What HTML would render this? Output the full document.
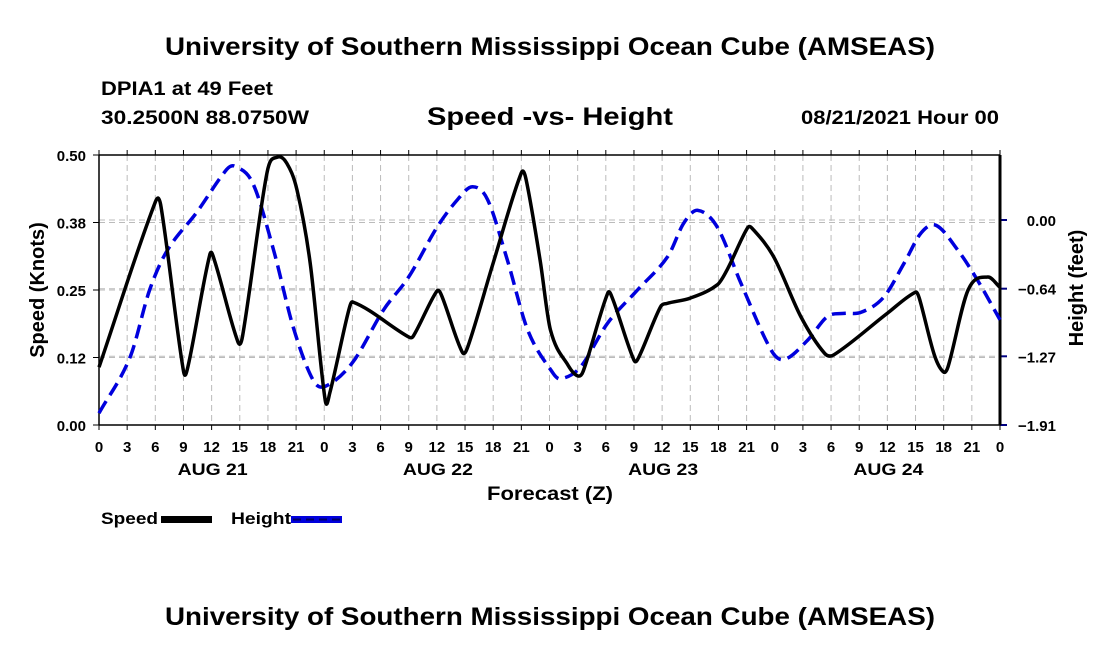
<!DOCTYPE html>
<html><head><meta charset="utf-8"><style>
body{margin:0;background:#fff;}
svg{display:block;font-family:"Liberation Sans",Arial,sans-serif;font-weight:bold;}
</style></head><body>
<svg id="c" width="1100" height="650" xmlns="http://www.w3.org/2000/svg">
<text x="165" y="55" font-size="25" textLength="770" lengthAdjust="spacingAndGlyphs">University of Southern Mississippi Ocean Cube (AMSEAS)</text>
<text x="101" y="95" font-size="19" textLength="172" lengthAdjust="spacingAndGlyphs">DPIA1 at 49 Feet</text>
<text x="101" y="124" font-size="19" textLength="208" lengthAdjust="spacingAndGlyphs">30.2500N  88.0750W</text>
<text x="427" y="125" font-size="25" textLength="246" lengthAdjust="spacingAndGlyphs">Speed -vs- Height</text>
<text x="801" y="124" font-size="19" textLength="198" lengthAdjust="spacingAndGlyphs">08/21/2021 Hour 00</text>
<text x="165" y="625" font-size="25" textLength="770" lengthAdjust="spacingAndGlyphs">University of Southern Mississippi Ocean Cube (AMSEAS)</text>
<g id="grid"></g><g id="axes"></g><g id="series"></g>
<text x="487" y="500" font-size="19" textLength="126" lengthAdjust="spacingAndGlyphs">Forecast (Z)</text>
<text transform="translate(44,290) rotate(-90)" text-anchor="middle" font-size="20">Speed (Knots)</text>
<text transform="translate(1083,288) rotate(-90)" text-anchor="middle" font-size="20">Height (feet)</text>
<g>
<text x="101" y="524" font-size="17" textLength="57" lengthAdjust="spacingAndGlyphs">Speed</text>
<rect x="161" y="516" width="51" height="7" fill="#000"/>
<text x="231" y="524" font-size="17" textLength="60" lengthAdjust="spacingAndGlyphs">Height</text>
<rect x="291" y="516" width="51" height="7" fill="#0000dd"/>
<line x1="293" y1="519.5" x2="340" y2="519.5" stroke="#000066" stroke-width="2" stroke-dasharray="8,5"/>
</g>
</svg>
<script>
const speedHours=[0,6,6.6,9,9.5,11.8,12.3,14.8,15.3,17.9,19,20,21.1,22.5,24.1,24.6,26.5,27,33,33.5,36,36.5,38.7,39.3,42,45,45.5,47,48.1,50,51,51.6,54.2,54.7,57,57.5,59.8,60.5,63,65.9,67,69.1,69.6,71.9,74.8,77.3,78.3,84,87,87.4,89,90,90.5,92.6,94.7,96];
const speedValues=[0.107,0.413,0.405,0.10,0.11,0.315,0.305,0.154,0.165,0.467,0.496,0.485,0.435,0.30,0.046,0.06,0.205,0.228,0.163,0.165,0.248,0.24,0.135,0.145,0.30,0.467,0.455,0.305,0.176,0.11,0.091,0.10,0.244,0.235,0.12,0.125,0.218,0.225,0.235,0.26,0.29,0.365,0.364,0.311,0.20,0.133,0.13,0.207,0.246,0.235,0.13,0.098,0.11,0.25,0.274,0.255];
const heightHours=[0,3.3,5.4,7.3,10.4,13.6,14.5,16.4,18.6,20.7,22.8,24.1,27,30.3,33,36,38.2,39.8,41.4,43.5,45.7,48.4,49.2,51.3,54.2,57.4,60.6,62.3,63.8,65.9,68.4,71.6,73,75.5,77.6,79.4,81.2,83.6,85.8,87.6,89.2,91.5,93.6,96];
const heightValues=[-1.80,-1.28,-0.65,-0.28,0.07,0.47,0.50,0.34,-0.28,-1.00,-1.49,-1.55,-1.33,-0.84,-0.53,-0.07,0.19,0.31,0.19,-0.37,-1.03,-1.43,-1.48,-1.37,-0.96,-0.65,-0.34,-0.03,0.09,-0.07,-0.59,-1.21,-1.30,-1.12,-0.90,-0.87,-0.86,-0.72,-0.40,-0.12,-0.05,-0.28,-0.56,-0.93];
const speedTicks=[0,0.125,0.25,0.375,0.5];
const speedTickLabels=["0.00","0.12","0.25","0.38","0.50"];
const heightTicks=[-1.91,-1.27,-0.64,0.00];
const heightTickLabels=["\u22121.91","\u22121.27","\u22120.64","0.00"];
const dayLabels=["AUG 21","AUG 22","AUG 23","AUG 24"];

const X0=99,X1=1000,YT=155,YB=425;
const xs=h=>X0+(X1-X0)*h/96;
const ys=v=>YB-(YB-YT)*v/0.5;
const yh=v=>220-v*(205/1.91);
const NS="http://www.w3.org/2000/svg";
function mk(p,tag,at){const e=document.createElementNS(NS,tag);for(const k in at)e.setAttribute(k,at[k]);p.appendChild(e);return e;}
const grid=document.getElementById('grid'),axes=document.getElementById('axes'),series=document.getElementById('series');
for(let h=3;h<96;h+=3){const l=mk(grid,'line',{x1:xs(h),x2:xs(h),y1:YT,y2:YB,stroke:'#bbb','stroke-dasharray':'6,4'});

}
speedTicks.forEach((v,i)=>{const y=ys(v);
if(i>0&&i<4){const l=mk(grid,'line',{x1:X0,x2:X1,y1:y,y2:y,stroke:'#bbb','stroke-dasharray':'6,4'});

}
mk(axes,'line',{x1:X0-6,x2:X0,y1:y,y2:y,stroke:'#000'});
const t=mk(axes,'text',{x:X0-13,y:y+6,'text-anchor':'end','font-size':'15'});t.textContent=speedTickLabels[i];

});
heightTicks.forEach((v,i)=>{const y=yh(v);
if(i>0){const l=mk(grid,'line',{x1:X0,x2:X1,y1:y,y2:y,stroke:'#bbb','stroke-dasharray':'6,4'});

}
mk(axes,'line',{x1:X1,x2:X1+7,y1:y,y2:y,stroke:'#000080','stroke-width':2});
const t=mk(axes,'text',{x:1056,y:y+6,'text-anchor':'end','font-size':'15'});t.textContent=heightTickLabels[i];

});
for(let h=0;h<=96;h+=3){mk(axes,'line',{x1:xs(h),x2:xs(h),y1:YT-5,y2:YT,stroke:'#000'});
mk(axes,'line',{x1:xs(h),x2:xs(h),y1:YB,y2:YB+5,stroke:'#000'});
const t=mk(axes,'text',{x:xs(h),y:452,'text-anchor':'middle','font-size':'15'});t.textContent=String(h%24);

}
dayLabels.forEach((d,i)=>{const t=mk(axes,'text',{x:xs(12+24*i)+1,y:475,'text-anchor':'middle','font-size':'17','textLength':70,'lengthAdjust':'spacingAndGlyphs'});t.textContent=d;

});
mk(axes,'line',{x1:X0,x2:X1,y1:YT,y2:YT,stroke:'#000','stroke-width':1.5});
mk(axes,'line',{x1:X0,x2:X1,y1:YB,y2:YB,stroke:'#000','stroke-width':1.5});
mk(axes,'line',{x1:X0,x2:X0,y1:YT,y2:YB,stroke:'#000','stroke-width':1.5});
mk(axes,'line',{x1:X1,x2:X1,y1:YT,y2:YB,stroke:'#000','stroke-width':3});
function path(px,py){let d=`M${px[0]},${py[0]}`;const n=px.length;
for(let i=0;i<n-1;i++){const p0=i?i-1:i,p3=i+2<n?i+2:i+1;
const dx=px[i+1]-px[i];
const s1=(py[i+1]-py[p0])/((px[i+1]-px[p0])||1), s2=(py[p3]-py[i])/((px[p3]-px[i])||1);
d+=` C${px[i]+dx/3},${py[i]+s1*dx/3} ${px[i+1]-dx/3},${py[i+1]-s2*dx/3} ${px[i+1]},${py[i+1]}`;}return d;}
const hp=mk(series,'path',{d:path(heightHours.map(xs),heightValues.map(yh)),fill:'none',stroke:'#0000dd','stroke-width':3.5,'stroke-dasharray':'14,7'});


const sp=mk(series,'path',{d:path(speedHours.map(xs),speedValues.map(ys)),fill:'none',stroke:'#000','stroke-width':3.5,'stroke-linejoin':'round'});


</script>
</body></html>
